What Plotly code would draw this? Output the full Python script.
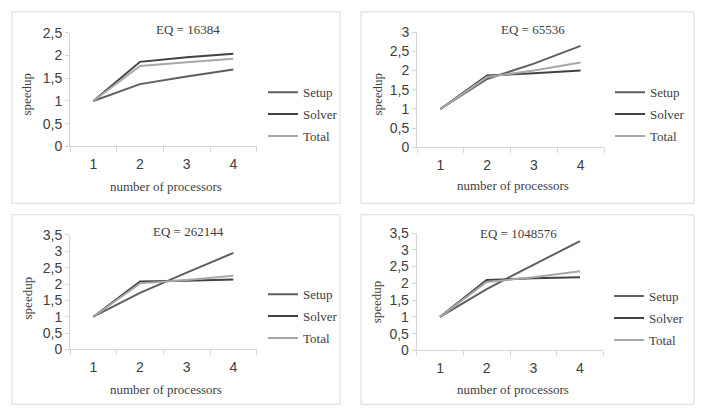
import plotly.graph_objects as go

W, H = 702, 418

processors = [1, 2, 3, 4]
titles = ["EQ = 16384", "EQ = 65536", "EQ = 262144", "EQ = 1048576"]

setup_16384 = [1.0, 1.37, 1.54, 1.69]
solver_16384 = [1.0, 1.86, 1.96, 2.04]
total_16384 = [1.0, 1.77, 1.85, 1.93]

setup_65536 = [1.0, 1.78, 2.18, 2.64]
solver_65536 = [1.0, 1.87, 1.93, 2.00]
total_65536 = [1.0, 1.83, 2.00, 2.21]

setup_262144 = [1.0, 1.73, 2.35, 2.95]
solver_262144 = [1.0, 2.08, 2.10, 2.14]
total_262144 = [1.0, 2.02, 2.12, 2.25]

setup_1048576 = [1.0, 1.83, 2.55, 3.26]
solver_1048576 = [1.0, 2.10, 2.15, 2.18]
total_1048576 = [1.0, 2.04, 2.18, 2.36]

y_max = [2.5, 3.0, 3.5, 3.5]

series_names = ["Setup", "Solver", "Total"]
colors = ["#5f5f5f", "#424242", "#a8a8a8"]

panels = [
    (setup_16384, solver_16384, total_16384),
    (setup_65536, solver_65536, total_65536),
    (setup_262144, solver_262144, total_262144),
    (setup_1048576, solver_1048576, total_1048576),
]

# pixel geometry (left, right, top(=ymax), bottom(=0))
plot_px = [
    (70, 256.7, 25.7, 144),
    (417, 604, 25, 145),
    (70, 256.7, 236, 355),
    (416.7, 603.3, 234, 356),
]
box_px = [
    (12, 340, 4, 203),
    (361, 694, 4, 203),
    (12, 340, 215, 412),
    (361, 694, 215, 412),
]
title_px = [(188, 22), (533, 22), (188, 232), (518, 234)]
ytitle_px = [(27, 90), (378, 90), (27, 302), (376, 306)]
xtitle_px = [(166, 186), (513, 185), (166, 397), (513, 397)]
legend_px = [(263, 72), (610, 72), (263, 282), (609, 284)]

def px(x):
    return x / W

def py(y):
    return 1 - y / H

SERIF = "Liberation Serif"
SANS = "Liberation Sans"
TXT = "#404040"
AX = "#d6d6d6"

fig = go.Figure()
layout = dict(
    width=W, height=H,
    margin=dict(l=0, r=0, t=0, b=0),
    paper_bgcolor="white", plot_bgcolor="white",
    separators=", ",
    shapes=[], annotations=[],
)

for i, data in enumerate(panels):
    k = "" if i == 0 else str(i + 1)
    lg = "legend" if i == 0 else "legend" + str(i + 1)
    for name, col, vals in zip(series_names, colors, data):
        fig.add_trace(go.Scatter(
            x=processors, y=vals, mode="lines", name=name,
            line=dict(color=col, width=2),
            xaxis="x" + k, yaxis="y" + k, legend=lg,
            legendgroup=f"{i}_{name}",
        ))
    l, r, t, b = plot_px[i]
    layout["xaxis" + k] = dict(
        domain=[px(l), px(r)], anchor="y" + k, range=[0.5, 4.5],
        tickvals=processors, ticks="outside", ticklen=5,
        tickcolor="rgba(0,0,0,0)",
        minor=dict(tickvals=[0.5, 1.5, 2.5, 3.5, 4.5], ticks="outside",
                   ticklen=5, tickcolor=AX),
        showline=True, linecolor=AX, linewidth=1,
        showgrid=False, zeroline=False, fixedrange=True,
        tickfont=dict(family=SANS, size=14, color=TXT),
    )
    layout["yaxis" + k] = dict(
        domain=[py(b), py(t)], anchor="x" + k, range=[0, y_max[i]],
        dtick=0.5, tick0=0, ticks="outside", ticklen=4, tickcolor=AX,
        showline=True, linecolor=AX, linewidth=1,
        showgrid=False, zeroline=False, fixedrange=True,
        tickfont=dict(family=SANS, size=14, color=TXT),
    )
    bl, br, bt, bb = box_px[i]
    layout["shapes"].append(dict(
        type="rect", xref="paper", yref="paper",
        x0=px(bl), x1=px(br), y0=py(bb), y1=py(bt),
        line=dict(color="#d9d9d9", width=1), fillcolor="rgba(0,0,0,0)",
    ))
    tx, ty = title_px[i]
    layout["annotations"].append(dict(
        text=titles[i], x=px(tx), y=py(ty), xref="paper", yref="paper",
        showarrow=False, xanchor="center", yanchor="middle",
        font=dict(family=SERIF, size=13, color=TXT),
    ))
    ax_, ay_ = ytitle_px[i]
    layout["annotations"].append(dict(
        text="speedup", x=px(ax_), y=py(ay_), xref="paper", yref="paper",
        showarrow=False, xanchor="center", yanchor="middle", textangle=-90,
        font=dict(family=SERIF, size=13, color=TXT),
    ))
    bx_, by_ = xtitle_px[i]
    layout["annotations"].append(dict(
        text="number of processors", x=px(bx_), y=py(by_), xref="paper", yref="paper",
        showarrow=False, xanchor="center", yanchor="middle",
        font=dict(family=SERIF, size=13, color=TXT),
    ))
    lx, ly = legend_px[i]
    layout[lg] = dict(
        x=px(lx), y=py(ly), xanchor="left", yanchor="top",
        xref="paper", yref="paper",
        bgcolor="rgba(0,0,0,0)", borderwidth=0,
        font=dict(family=SERIF, size=13, color=TXT),
        tracegroupgap=2, itemwidth=30,
    )

fig.update_layout(**layout)
fig.write_html(
    "out.html",
    config={"displayModeBar": False, "staticPlot": False},
    post_script="document.body.style.margin='0';document.body.style.padding='0';",
)
